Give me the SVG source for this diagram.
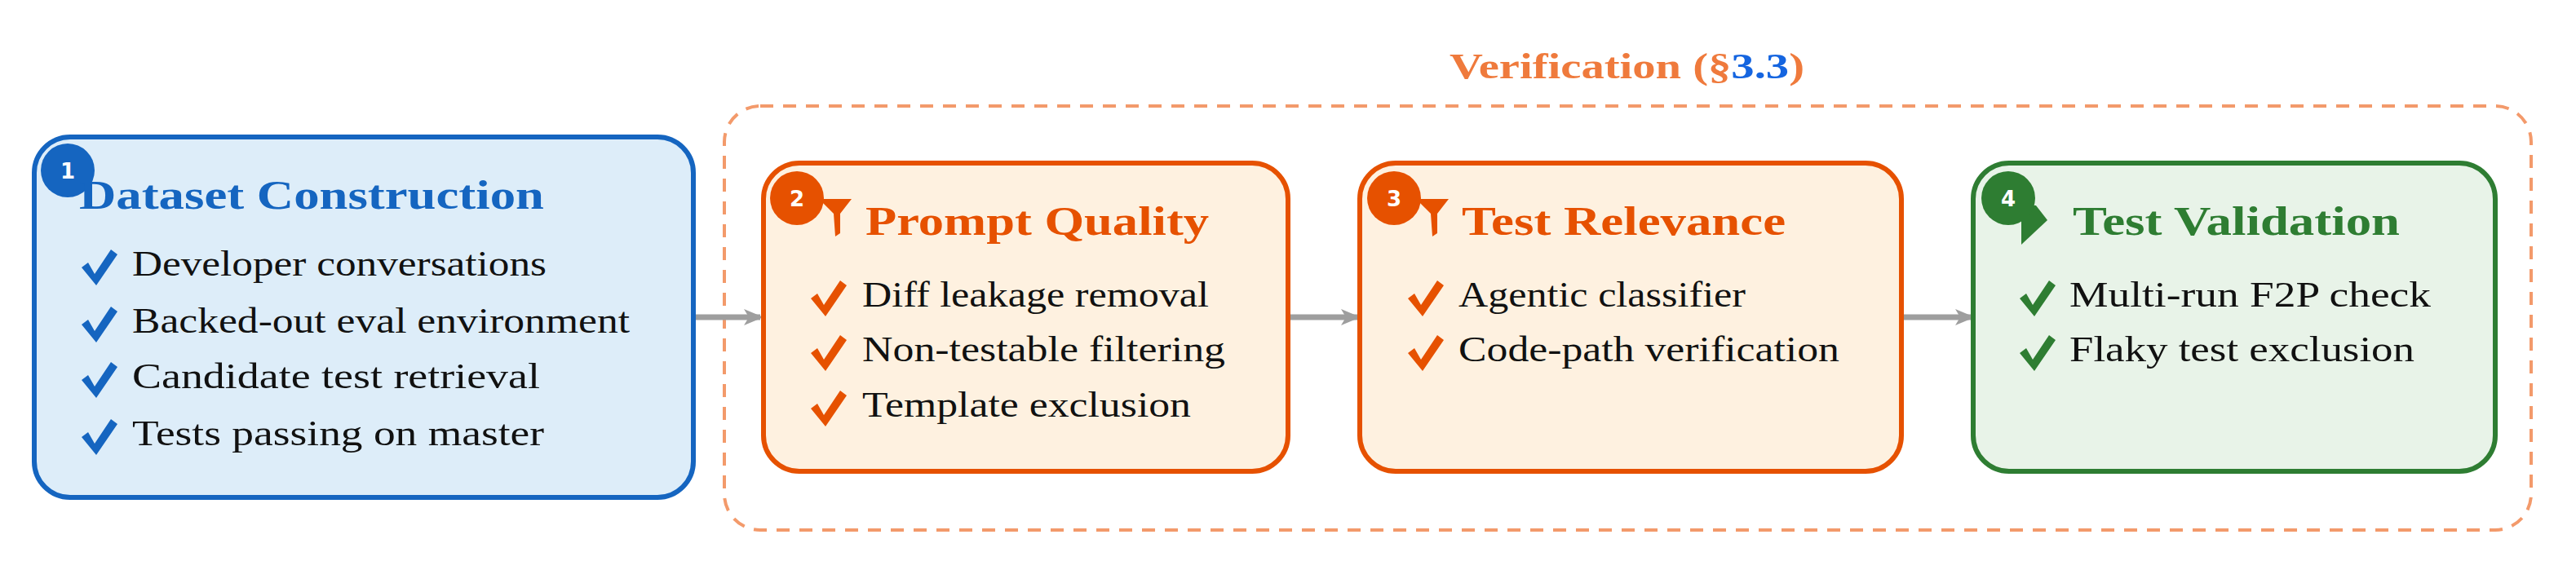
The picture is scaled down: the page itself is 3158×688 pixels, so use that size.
<svg xmlns="http://www.w3.org/2000/svg" width="3158" height="688" viewBox="0 0 3158 688">
<defs>
<style>
text{font-family:"Liberation Serif","Times New Roman",serif}
.t{font-size:50px;font-weight:bold}
.i{font-size:44px;fill:#111}
.b{font-size:26px;font-weight:bold;fill:#fff;font-family:"DejaVu Sans",sans-serif}
.conn{stroke:#9e9e9e;stroke-width:7;fill:none}
</style>
<marker id="ah" markerWidth="24" markerHeight="24" refX="20" refY="12" orient="auto" markerUnits="userSpaceOnUse" viewBox="0 0 24 24"><path d="M0,2 L24,12 L0,22 L6,12 Z" fill="#9e9e9e"/></marker>
<path id="ck" d="M0,14 L8,8 L16,22 L36,-8 L44,-2 L18,36 Z"/>
<path id="fun" d="M-20,-14 L20,-14 L6,4 L6,28 L0,32 L-2,4 Z"/>
</defs>
<g id="verification">
<rect x="888" y="130" width="2215" height="520" rx="44" fill="none" stroke="#F39A6B" stroke-width="4" stroke-dasharray="16,12"/>
<text x="1777" y="96" class="t" style="font-size:44px" fill="#EF7A3C" textLength="435" lengthAdjust="spacingAndGlyphs">Verification (§<tspan fill="#1565E0">3.3</tspan>)</text>
</g>
<g id="connectors">
<line class="conn" x1="852" y1="389" x2="932" y2="389" marker-end="url(#ah)"/>
<line class="conn" x1="1581" y1="389" x2="1664" y2="389" marker-end="url(#ah)"/>
<line class="conn" x1="2333" y1="389" x2="2417" y2="389" marker-end="url(#ah)"/>
</g>
<g id="n1">
<rect x="42" y="168" width="808" height="442" rx="44" fill="#DDEDF9" stroke="#1565C0" stroke-width="6"/>
<circle cx="83" cy="209" r="33" fill="#1565C0"/>
<text x="83" y="219" text-anchor="middle" class="b">1</text>
<text x="97" y="256" class="t" fill="#1565C0" textLength="570" lengthAdjust="spacingAndGlyphs">Dataset Construction</text>
<g fill="#1565C0"><use href="#ck" x="100" y="314"/><use href="#ck" x="100" y="384"/><use href="#ck" x="100" y="452"/><use href="#ck" x="100" y="522"/></g>
<text x="162" y="338" class="i" textLength="508" lengthAdjust="spacingAndGlyphs">Developer conversations</text>
<text x="162" y="408" class="i" textLength="610" lengthAdjust="spacingAndGlyphs">Backed-out eval environment</text>
<text x="162" y="476" class="i" textLength="500" lengthAdjust="spacingAndGlyphs">Candidate test retrieval</text>
<text x="162" y="546" class="i" textLength="505" lengthAdjust="spacingAndGlyphs">Tests passing on master</text>
</g>
<g id="n2">
<rect x="936" y="200" width="643" height="378" rx="44" fill="#FEF1E0" stroke="#E65100" stroke-width="6"/>
<circle cx="977" cy="243" r="33" fill="#E65100"/>
<use href="#fun" x="1024" y="258" fill="#E65100"/>
<text x="977" y="253" text-anchor="middle" class="b">2</text>
<text x="1061" y="288" class="t" fill="#E65100" textLength="421" lengthAdjust="spacingAndGlyphs">Prompt Quality</text>
<g fill="#E65100"><use href="#ck" x="994" y="352"/><use href="#ck" x="994" y="419"/><use href="#ck" x="994" y="487"/></g>
<text x="1057" y="376" class="i" textLength="425" lengthAdjust="spacingAndGlyphs">Diff leakage removal</text>
<text x="1057" y="443" class="i" textLength="445" lengthAdjust="spacingAndGlyphs">Non-testable filtering</text>
<text x="1057" y="511" class="i" textLength="403" lengthAdjust="spacingAndGlyphs">Template exclusion</text>
</g>
<g id="n3">
<rect x="1667" y="200" width="664" height="378" rx="44" fill="#FEF1E0" stroke="#E65100" stroke-width="6"/>
<circle cx="1709" cy="243" r="33" fill="#E65100"/>
<use href="#fun" x="1756" y="258" fill="#E65100"/>
<text x="1709" y="253" text-anchor="middle" class="b">3</text>
<text x="1792" y="288" class="t" fill="#E65100" textLength="397" lengthAdjust="spacingAndGlyphs">Test Relevance</text>
<g fill="#E65100"><use href="#ck" x="1726" y="352"/><use href="#ck" x="1726" y="419"/></g>
<text x="1788" y="376" class="i" textLength="352" lengthAdjust="spacingAndGlyphs">Agentic classifier</text>
<text x="1788" y="443" class="i" textLength="467" lengthAdjust="spacingAndGlyphs">Code-path verification</text>
</g>
<g id="n4">
<rect x="2419" y="200" width="640" height="378" rx="44" fill="#E8F3E8" stroke="#2E7D32" stroke-width="6"/>
<path d="M2478,250 L2478,300 L2510,270 L2496,252 Z" fill="#2E7D32"/>
<circle cx="2462" cy="243" r="33" fill="#2E7D32"/>
<text x="2462" y="253" text-anchor="middle" class="b">4</text>
<text x="2541" y="288" class="t" fill="#2E7D32" textLength="401" lengthAdjust="spacingAndGlyphs">Test Validation</text>
<g fill="#2E7D32"><use href="#ck" x="2476" y="352"/><use href="#ck" x="2476" y="419"/></g>
<text x="2537" y="376" class="i" textLength="443" lengthAdjust="spacingAndGlyphs">Multi-run F2P check</text>
<text x="2537" y="443" class="i" textLength="423" lengthAdjust="spacingAndGlyphs">Flaky test exclusion</text>
</g>
</svg>
